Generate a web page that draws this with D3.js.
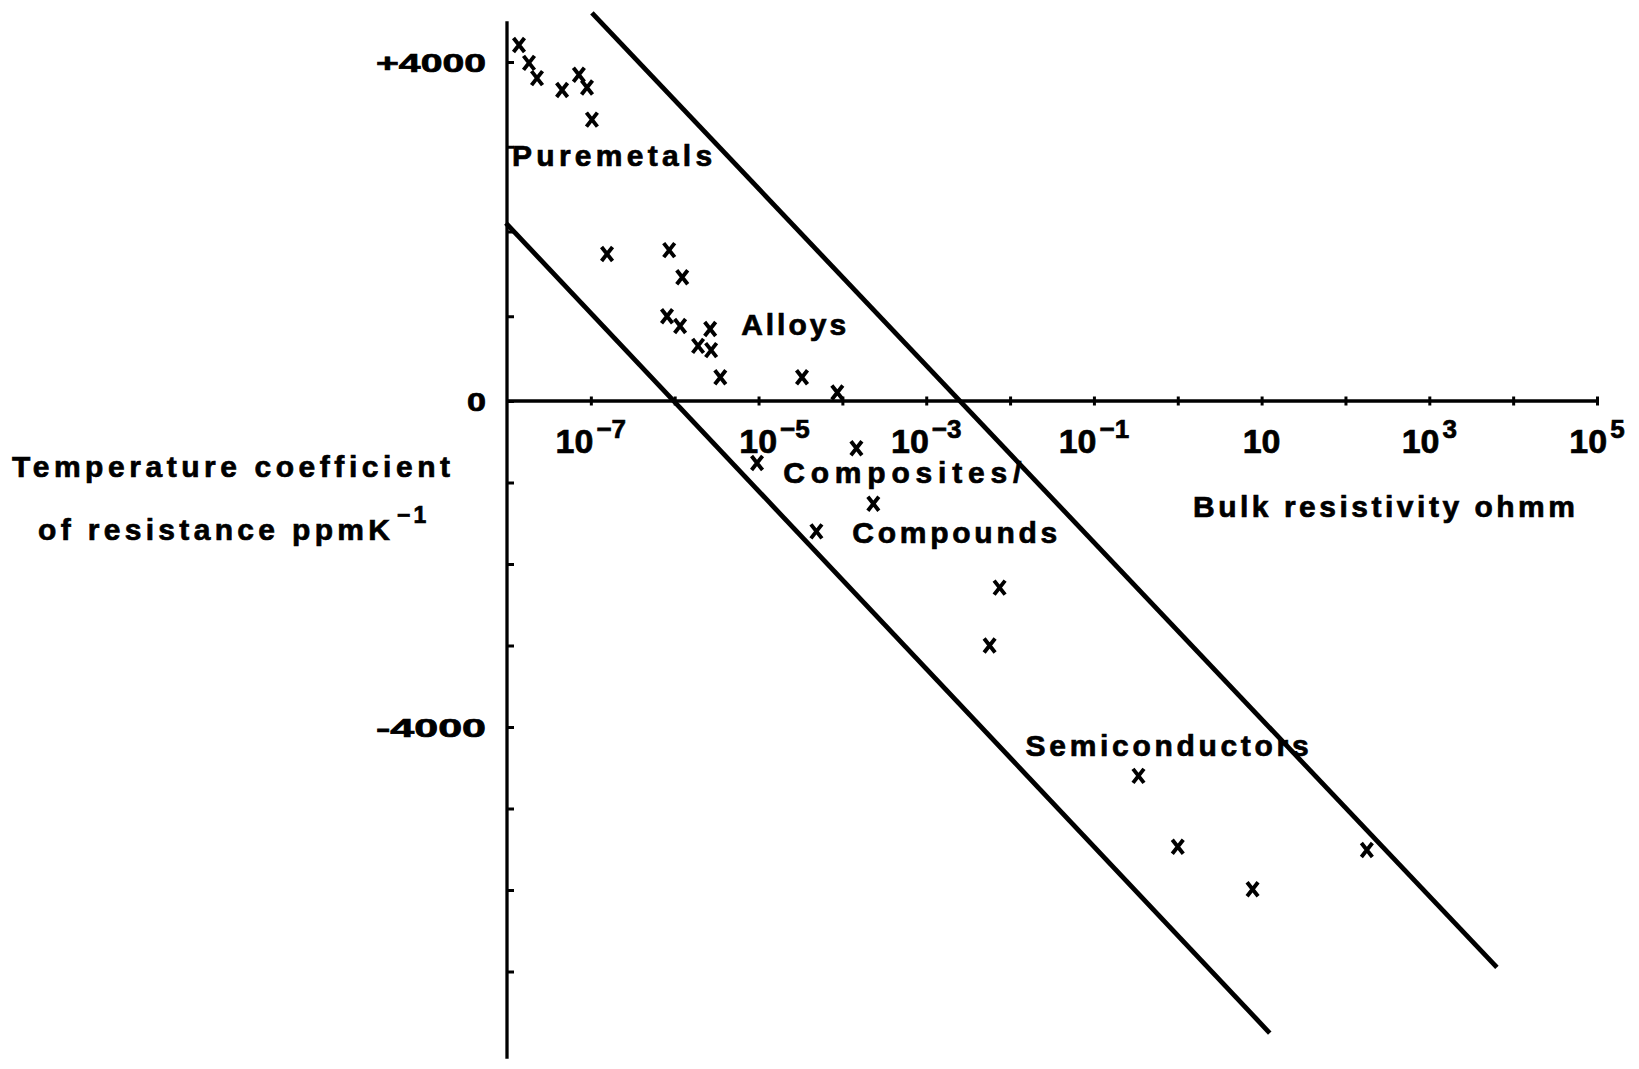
<!DOCTYPE html>
<html>
<head>
<meta charset="utf-8">
<script src="https://cdn.jsdelivr.net/npm/d3@7"></script>
<style>
  html, body { margin: 0; padding: 0; background: #fff; }
  svg { display: block; }
  text { font-family: "Liberation Sans", Arial, Helvetica, sans-serif; font-weight: bold; fill: #000; stroke: #000; stroke-width: 0.7px; }
</style>
</head>
<body>
<svg id="chart" width="1639" height="1069"></svg>
<script>
// Temperature coefficient of resistance (ppm/K) against bulk resistivity (ohm m)

const pureMetals = [
  [1.39e-8, 4200], [1.83e-8, 3990], [2.28e-8, 3810], [4.54e-8, 3670],
  [7.2e-8, 3850], [9.0e-8, 3700], [1.03e-7, 3320]
];
const alloys = [
  [1.56e-7, 1735], [8.6e-7, 1780], [1.23e-6, 1460], [8.1e-7, 1000],
  [1.16e-6, 885], [2.65e-6, 850], [1.9e-6, 650], [2.72e-6, 600],
  [3.5e-6, 280], [3.3e-5, 280], [8.7e-5, 100]
];
const compounds = [
  [1.47e-4, -580], [9.6e-6, -760], [2.34e-4, -1260], [4.9e-5, -1600],
  [7.5e-3, -2290], [5.7e-3, -3000]
];
const semiconductors = [
  [0.34, -4600], [1.0, -5470], [7.8, -5990], [180, -5510]
];

// Straight boundaries of the populated band (end points)
const upperBound = [[1.03e-7, 4580], [6400, -6950]];
const lowerBound = [[9.7e-9, 2100], [12.5, -7755]];

// Axis ticks and labels
const xDecades = d3.range(-7, 6);
const xLabelExponents = [-7, -5, -3, -1, 1, 3, 5];
const yTickValues = d3.range(-7000, 4001, 1000);
const yLabelValues = [4000, 0, -4000];
const yLabelTexts = ["+4000", "0", "-4000"];
const xExtent = [1e-8, 1e5];
const yExtent = [-8070, 4480];

// Group names written inside the band
const groupNames = ["Puremetals", "Alloys", "Composites/", "Compounds", "Semiconductors"];
const groupAnchors = [[1.15e-8, 2770], [6.2e-6, 780], [1.97e-5, -1010], [1.31e-4, -1742], [0.0153, -4356]];

const svg = d3.select("#chart");

const x = d3.scaleLog().domain(xExtent).range([507, 1597]);
// hand-ruled axis: slightly different spacing above and below zero
const y = d3.scaleLinear().domain([-4000, 0, 4000]).range([727, 401, 62]);

const x0 = x(xExtent[0]);
const y0 = y(0);

// ---- axes ----
svg.append("line")
  .attr("x1", x0).attr("x2", x0)
  .attr("y1", y(yExtent[1])).attr("y2", y(yExtent[0]))
  .attr("stroke", "#000").attr("stroke-width", 3.3);

svg.append("line")
  .attr("x1", x0).attr("x2", x(xExtent[1]))
  .attr("y1", y0).attr("y2", y0)
  .attr("stroke", "#000").attr("stroke-width", 3.3);

const yAxis = d3.axisRight(y).tickValues(yTickValues).tickSize(7).tickFormat("");
const gy = svg.append("g").attr("transform", `translate(${x0},0)`).call(yAxis);
gy.select(".domain").remove();
gy.selectAll(".tick line").attr("stroke", "#000").attr("stroke-width", 3);

const xAxis = d3.axisBottom(x).tickValues(xDecades.map(e => Math.pow(10, e))).tickSize(9).tickFormat("");
const gx = svg.append("g").attr("transform", `translate(0,${y0 - 4.5})`).call(xAxis);
gx.select(".domain").remove();
gx.selectAll(".tick line").attr("stroke", "#000").attr("stroke-width", 3);

// x tick labels with superscript exponents (the 10^-5 label sits a little right of its tick)
const xLabelNudge = { "-5": 16 };
svg.append("g").selectAll("text")
  .data(xLabelExponents)
  .join("text")
  .attr("x", e => x(Math.pow(10, e)) + (xLabelNudge[e] || 0))
  .attr("y", y0 + 52)
  .attr("text-anchor", "middle")
  .style("font-size", "34px")
  .each(function (e) {
    const t = d3.select(this);
    if (e === 1) {
      t.text("10");
    } else {
      t.append("tspan").text("10");
      t.append("tspan")
        .attr("dy", -15)
        .attr("dx", 3)
        .style("font-size", "26px")
        .text(e < 0 ? "\u2212" + Math.abs(e) : String(e));
    }
  });

// y tick labels
svg.append("g").selectAll("text")
  .data(yLabelValues)
  .join("text")
  .attr("x", x0 - 21)
  .attr("y", v => y(v) + 10)
  .attr("text-anchor", "end")
  .attr("textLength", (v, i) => yLabelTexts[i].length > 1 ? 110 : 19)
  .attr("lengthAdjust", "spacingAndGlyphs")
  .style("font-size", "26px")
  .text((v, i) => yLabelTexts[i]);

// ---- boundary lines ----
const line = d3.line().x(d => x(d[0])).y(d => y(d[1]));
[upperBound, lowerBound].forEach(b => {
  svg.append("path")
    .attr("d", line(b))
    .attr("fill", "none")
    .attr("stroke", "#000")
    .attr("stroke-width", 4.8);
});

// ---- data markers ----
const cross = "M-5.5,-7L5.5,7M5.5,-7L-5.5,7";
[pureMetals, alloys, compounds, semiconductors].forEach(series => {
  svg.append("g").selectAll("path")
    .data(series)
    .join("path")
    .attr("transform", d => `translate(${x(d[0])},${y(d[1])})`)
    .attr("d", cross)
    .attr("fill", "none")
    .attr("stroke", "#000")
    .attr("stroke-width", 3.9);
});

// ---- group names ----
const groupWidths = [200, 105, 238, 205, 283];
svg.append("g").selectAll("text")
  .data(groupNames)
  .join("text")
  .attr("x", (d, i) => x(groupAnchors[i][0]))
  .attr("y", (d, i) => y(groupAnchors[i][1]))
  .attr("textLength", (d, i) => groupWidths[i])
  .attr("lengthAdjust", "spacing")
  .style("font-size", "30px")
  .text(d => d);

// ---- axis titles ----
svg.append("text")
  .attr("x", 1193).attr("y", 517)
  .style("font-size", "30px")
  .attr("textLength", 382).attr("lengthAdjust", "spacing")
  .text("Bulk resistivity ohmm");

svg.append("text")
  .attr("x", 12).attr("y", 477)
  .style("font-size", "30px")
  .attr("textLength", 438).attr("lengthAdjust", "spacing")
  .text("Temperature coefficient");

svg.append("text")
  .attr("x", 38).attr("y", 540)
  .style("font-size", "30px")
  .attr("textLength", 352).attr("lengthAdjust", "spacing")
  .text("of resistance ppmK");

svg.append("text")
  .attr("x", 397).attr("y", 523)
  .style("font-size", "23px")
  .style("letter-spacing", "3px")
  .text("\u22121");
</script>
</body>
</html>
